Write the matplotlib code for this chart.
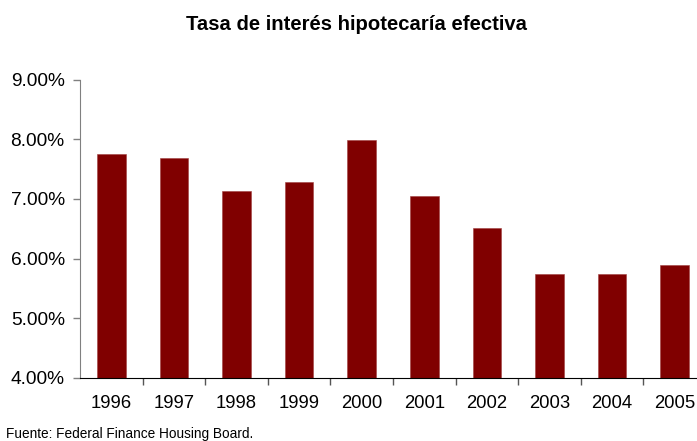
import numpy as np
import matplotlib.pyplot as plt
from matplotlib.ticker import FixedLocator, FuncFormatter

plt.rcParams['font.family'] = ['Liberation Sans', 'DejaVu Sans']

years = ["1996", "1997", "1998", "1999", "2000", "2001", "2002", "2003", "2004", "2005"]
rates = [7.76, 7.69, 7.13, 7.28, 7.98, 7.05, 6.52, 5.75, 5.75, 5.90]

fig = plt.figure(figsize=(6.97, 4.41), dpi=100)
# axis runs slightly past the right edge of the figure
ax = fig.add_axes([80 / 697, (441 - 378) / 441, 626 / 697, (378 - 79.5) / 441])

x = np.arange(len(years))
ax.bar(x, np.array(rates) - 4.0, bottom=4.0, width=0.46, color="#800000",
       edgecolor="#a04040", linewidth=0.4)

ax.set_xlim(-0.5, len(years) - 0.5)
ax.set_ylim(4.0, 9.0)
ax.set_yticks(np.arange(4.0, 9.01, 1.0))
ax.yaxis.set_major_formatter(FuncFormatter(lambda v, p: f"{v:.2f}%"))

# tick marks between categories, labels centred under bars
ax.xaxis.set_major_locator(FixedLocator(x[:-1] + 0.5))
ax.xaxis.set_major_formatter(FuncFormatter(lambda v, p: ""))
ax.xaxis.set_minor_locator(FixedLocator(x))
ax.set_xticklabels(years, minor=True)
ax.tick_params(axis="x", which="major", direction="out", length=5, width=1, color="#555555")
ax.tick_params(axis="x", which="minor", length=0, pad=12, labelsize=13.3)
ax.tick_params(axis="y", direction="out", length=5, width=1, color="#808080",
               pad=6, labelsize=13.8)

for side in ("top", "right"):
    ax.spines[side].set_visible(False)
ax.spines["left"].set_color("#808080")
ax.spines["bottom"].set_color("black")

fig.text(356 / 697, 1 - 24 / 441, "Tasa de interés hipotecaría efectiva",
         ha="center", va="center", fontsize=14.6, fontweight="bold")
fig.text(6 / 697, 1 - 434 / 441, "Fuente: Federal Finance Housing Board.",
         ha="left", va="center", fontsize=9.8)

plt.savefig("out.png", dpi=100)
